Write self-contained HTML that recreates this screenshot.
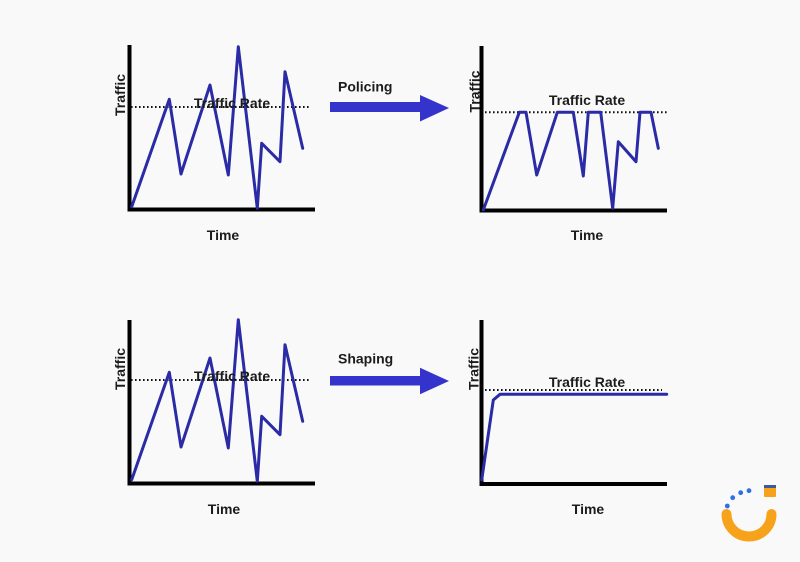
<!DOCTYPE html>
<html>
<head>
<meta charset="utf-8">
<style>
  html, body { margin: 0; padding: 0; background: #f9f9f9; }
  svg { display: block; }
  text { font-family: "Liberation Sans", Arial, sans-serif; font-weight: bold; font-size: 14px; fill: #1c1c1c; }
</style>
</head>
<body>
<svg width="800" height="562" viewBox="0 0 800 562" xmlns="http://www.w3.org/2000/svg">
  <rect x="0" y="0" width="800" height="562" fill="#f9f9f9"/>

  <!-- ===== Top-left chart ===== -->
  <g>
    <line x1="129.5" y1="45" x2="129.5" y2="211.5" stroke="#000" stroke-width="4"/>
    <line x1="127.5" y1="209.5" x2="315" y2="209.5" stroke="#000" stroke-width="4"/>
    <line x1="131" y1="107" x2="311" y2="107" stroke="#111" stroke-width="2" stroke-dasharray="1.6 2.4"/>
    <polyline points="131.7,206.7 169.3,99.3 181,174 210,85 228.3,175 238.3,46.7 257.3,208.3 261.7,143.3 280,161.7 285,71.7 302.7,148.3"
      fill="none" stroke="#2b2ba6" stroke-width="3" stroke-linejoin="round" stroke-linecap="round"/>
    <text x="232" y="108" text-anchor="middle">Traffic Rate</text>
    <text x="223" y="240" text-anchor="middle">Time</text>
    <text transform="translate(125,95) rotate(-90)" text-anchor="middle">Traffic</text>
  </g>

  <!-- Policing arrow -->
  <rect x="330" y="102" width="91" height="10" fill="#3434cc"/>
  <polygon points="420,95 449,108 420,121.5" fill="#3434cc"/>
  <text x="338" y="91.5">Policing</text>

  <!-- ===== Top-right chart ===== -->
  <g>
    <line x1="481.5" y1="46" x2="481.5" y2="212" stroke="#000" stroke-width="4"/>
    <line x1="479.5" y1="210.5" x2="667" y2="210.5" stroke="#000" stroke-width="4"/>
    <line x1="485" y1="112.3" x2="667" y2="112.3" stroke="#111" stroke-width="2" stroke-dasharray="1.6 2.4"/>
    <polyline points="483.3,210 519.3,112.3 526,112.3 536.7,175 557.3,112.3 573.3,112.3 583.3,176 588.3,112.3 600.7,112.3 612.7,208.3 618.3,141.7 636,161.7 640,112.3 651,112.3 658.3,148.3"
      fill="none" stroke="#2b2ba6" stroke-width="3" stroke-linejoin="round" stroke-linecap="round"/>
    <text x="587" y="105" text-anchor="middle">Traffic Rate</text>
    <text x="587" y="240" text-anchor="middle">Time</text>
    <text transform="translate(479.5,91.5) rotate(-90)" text-anchor="middle">Traffic</text>
  </g>

  <!-- ===== Bottom-left chart ===== -->
  <g transform="translate(0,273)">
    <line x1="129.5" y1="47" x2="129.5" y2="212.5" stroke="#000" stroke-width="4"/>
    <line x1="127.5" y1="210.5" x2="315" y2="210.5" stroke="#000" stroke-width="4"/>
    <line x1="131" y1="107" x2="311" y2="107" stroke="#111" stroke-width="2" stroke-dasharray="1.6 2.4"/>
    <polyline points="131.7,206.7 169.3,99.3 181,174 210,85 228.3,175 238.3,46.7 257.3,208.3 261.7,143.3 280,161.7 285,71.7 302.7,148.3"
      fill="none" stroke="#2b2ba6" stroke-width="3" stroke-linejoin="round" stroke-linecap="round"/>
    <text x="232" y="108" text-anchor="middle">Traffic Rate</text>
    <text x="224" y="241" text-anchor="middle">Time</text>
    <text transform="translate(125,96) rotate(-90)" text-anchor="middle">Traffic</text>
  </g>

  <!-- Shaping arrow -->
  <rect x="330" y="376" width="91" height="9.5" fill="#3434cc"/>
  <polygon points="420,367.7 449,381 420,394.3" fill="#3434cc"/>
  <text x="338" y="363.3">Shaping</text>

  <!-- ===== Bottom-right chart ===== -->
  <g>
    <line x1="481.5" y1="320" x2="481.5" y2="486" stroke="#000" stroke-width="4"/>
    <line x1="479.5" y1="484" x2="667" y2="484" stroke="#000" stroke-width="4"/>
    <line x1="485" y1="390" x2="662" y2="390" stroke="#111" stroke-width="2" stroke-dasharray="1.6 2.4"/>
    <polyline points="481.7,480 493.3,400 500,394.3 666.7,394.3"
      fill="none" stroke="#2b2ba6" stroke-width="3" stroke-linejoin="round" stroke-linecap="round"/>
    <text x="587" y="387" text-anchor="middle">Traffic Rate</text>
    <text x="588" y="514" text-anchor="middle">Time</text>
    <text transform="translate(478.5,369) rotate(-90)" text-anchor="middle">Traffic</text>
  </g>

  <!-- ===== Logo ===== -->
  <g>
    <path d="M 726.5 514 A 22.5 22.5 0 0 0 771.5 514" fill="none" stroke="#f7a21b" stroke-width="10" stroke-linecap="round"/>
    <circle cx="727.3" cy="506" r="2.4" fill="#2f6fe8"/>
    <circle cx="732.7" cy="497.7" r="2.4" fill="#2f6fe8"/>
    <circle cx="740.7" cy="492.7" r="2.4" fill="#2f6fe8"/>
    <circle cx="749" cy="490.7" r="2.4" fill="#2f6fe8"/>
    <rect x="764" y="485" width="12" height="12" rx="1" fill="#f7a21b"/>
    <rect x="764" y="485" width="12" height="3" fill="#3a5b9c"/>
  </g>
</svg>
</body>
</html>
